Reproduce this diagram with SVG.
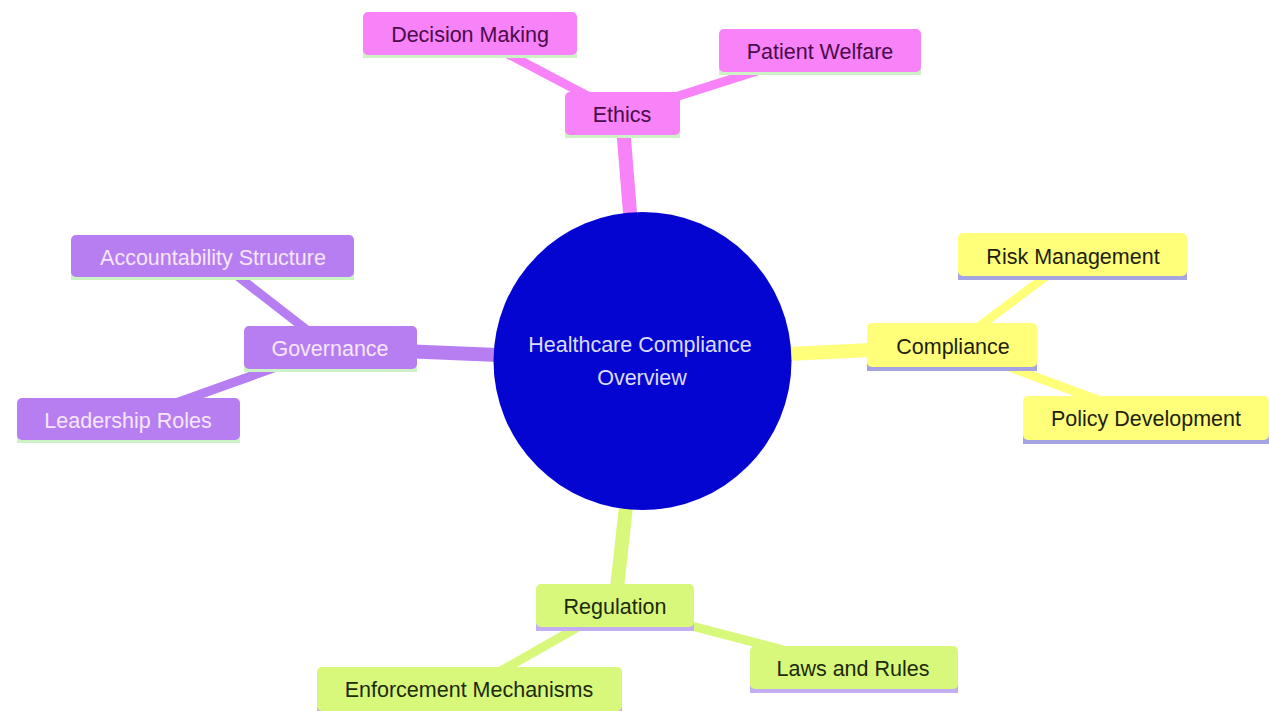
<svg xmlns="http://www.w3.org/2000/svg" width="1269" height="711" viewBox="0 0 1269 711">
<style>
  text { font-family: "Liberation Sans", Arial, sans-serif; font-size: 21.5px; text-anchor: middle; }
  .e1 { stroke-width: 14; stroke-linecap: butt; fill: none; }
  .e2 { stroke-width: 9; stroke-linecap: butt; fill: none; }
  .pink { fill: #f882f8; }
  .pinkS { stroke: #f882f8; }
  .pinkT { fill: #4a0c4a; }
  .purple { fill: #b77ef2; }
  .purpleS { stroke: #b77ef2; }
  .purpleT { fill: #f6e6fa; }
  .yellow { fill: #ffff7a; }
  .yellowS { stroke: #ffff7a; }
  .yellowT { fill: #1e1e08; }
  .green { fill: #d8f87c; }
  .greenS { stroke: #d8f87c; }
  .greenT { fill: #1c2a08; }
  .lineG { fill: #cdf2c6; }
  .lineB { fill: #a4a4e2; }
  .lineL { fill: #c2aef0; }
</style>
<rect width="1269" height="711" fill="#ffffff"/>
<g id="connectors">
  <line class="e1 pinkS" x1="642" y1="361" x2="622" y2="114"/>
  <line class="e1 purpleS" x1="642" y1="361" x2="330" y2="348"/>
  <line class="e1 yellowS" x1="642" y1="361" x2="953" y2="346"/>
  <line class="e1 greenS" x1="642" y1="361" x2="615" y2="606"/>
  <line class="e2 pinkS" x1="622" y1="114" x2="470" y2="34"/>
  <line class="e2 pinkS" x1="622" y1="114" x2="820" y2="51"/>
  <line class="e2 purpleS" x1="330" y1="348" x2="213" y2="257"/>
  <line class="e2 purpleS" x1="330" y1="348" x2="128" y2="420"/>
  <line class="e2 yellowS" x1="953" y1="346" x2="1073" y2="256"/>
  <line class="e2 yellowS" x1="953" y1="346" x2="1146" y2="418"/>
  <line class="e2 greenS" x1="615" y1="606" x2="469" y2="689"/>
  <line class="e2 greenS" x1="615" y1="606" x2="853" y2="668"/>
</g>
<g id="root">
  <circle cx="642.5" cy="361" r="149" fill="#0505d2"/>
  <text x="640" y="351.5" fill="#dcdcff">Healthcare Compliance</text>
  <text x="642" y="384.5" fill="#dcdcff">Overview</text>
</g>
<g id="ethics">
  <rect class="lineG" x="565" y="130" width="115" height="8"/>
  <rect class="pink" x="565" y="92" width="115" height="43" rx="5"/>
  <text class="pinkT" x="622" y="121.5">Ethics</text>
</g>
<g id="decision-making">
  <rect class="lineG" x="363" y="50" width="214" height="8"/>
  <rect class="pink" x="363" y="12" width="214" height="43" rx="5"/>
  <text class="pinkT" x="470" y="41.5">Decision Making</text>
</g>
<g id="patient-welfare">
  <rect class="lineG" x="719" y="67" width="202" height="8"/>
  <rect class="pink" x="719" y="29" width="202" height="43" rx="5"/>
  <text class="pinkT" x="820" y="58.5">Patient Welfare</text>
</g>
<g id="governance">
  <rect class="lineG" x="244" y="364" width="173" height="8"/>
  <rect class="purple" x="244" y="326" width="173" height="43" rx="5"/>
  <text class="purpleT" x="330" y="355.5">Governance</text>
</g>
<g id="accountability-structure">
  <rect class="lineG" x="71" y="272" width="283" height="8"/>
  <rect class="purple" x="71" y="235" width="283" height="42" rx="5"/>
  <text class="purpleT" x="213" y="264.5">Accountability Structure</text>
</g>
<g id="leadership-roles">
  <rect class="lineG" x="17" y="435" width="223" height="8"/>
  <rect class="purple" x="17" y="398" width="223" height="42" rx="5"/>
  <text class="purpleT" x="128" y="427.5">Leadership Roles</text>
</g>
<g id="compliance">
  <rect class="lineB" x="867" y="362" width="170" height="9"/>
  <rect class="yellow" x="867" y="323" width="170" height="44" rx="5"/>
  <text class="yellowT" x="953" y="353.5">Compliance</text>
</g>
<g id="risk-management">
  <rect class="lineB" x="958" y="271" width="229" height="9"/>
  <rect class="yellow" x="958" y="233" width="229" height="43" rx="5"/>
  <text class="yellowT" x="1073" y="263.5">Risk Management</text>
</g>
<g id="policy-development">
  <rect class="lineB" x="1023" y="435" width="246" height="9"/>
  <rect class="yellow" x="1023" y="396" width="246" height="44" rx="5"/>
  <text class="yellowT" x="1146" y="425.5">Policy Development</text>
</g>
<g id="regulation">
  <rect class="lineL" x="536" y="622" width="158" height="9"/>
  <rect class="green" x="536" y="584" width="158" height="43" rx="5"/>
  <text class="greenT" x="615" y="613.5">Regulation</text>
</g>
<g id="enforcement-mechanisms">
  <rect class="lineL" x="317" y="706" width="305" height="9"/>
  <rect class="green" x="317" y="667" width="305" height="44" rx="5"/>
  <text class="greenT" x="469" y="696.5">Enforcement Mechanisms</text>
</g>
<g id="laws-and-rules">
  <rect class="lineL" x="750" y="684" width="208" height="9"/>
  <rect class="green" x="750" y="646" width="208" height="43" rx="5"/>
  <text class="greenT" x="853" y="675.5">Laws and Rules</text>
</g>
</svg>
